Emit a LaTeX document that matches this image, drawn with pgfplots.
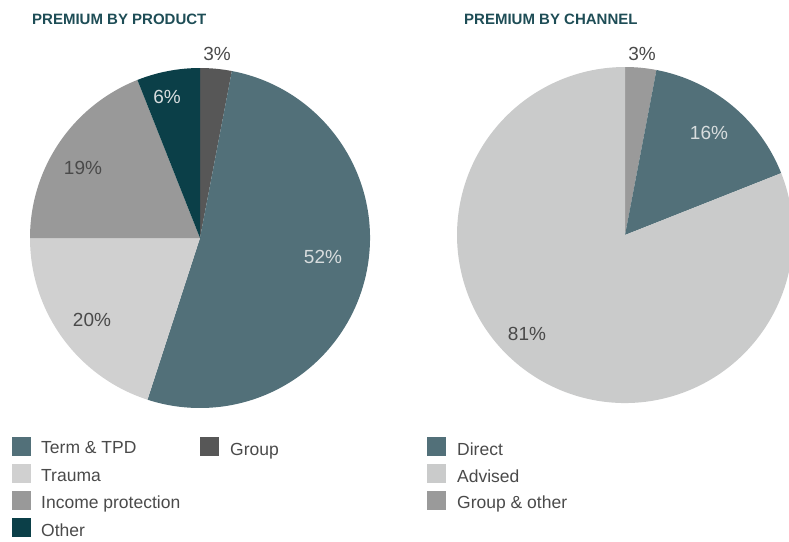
\documentclass[border=0pt]{standalone}
\usepackage{fontspec}
\setmainfont{Liberation Sans}
\usepackage{pgfplots}
\pgfplotsset{compat=1.18}
\definecolor{cTerm}{HTML}{527079}
\definecolor{cTrauma}{HTML}{D0D0D0}
\definecolor{cIncome}{HTML}{999999}
\definecolor{cOther}{HTML}{0B3F48}
\definecolor{cGroup}{HTML}{575757}
\definecolor{cAdvised}{HTML}{CACBCB}
\definecolor{cGrpOther}{HTML}{9A9A9A}
\definecolor{cTitle}{HTML}{1E4D56}
\definecolor{cLab}{HTML}{4A4A4A}
\definecolor{cLight}{HTML}{D8DDDE}
% data (percent shares), clockwise from 12 o'clock
\def\pGroup{3}\def\pTerm{52}\def\pTrauma{20}\def\pIncome{19}\def\pOther{6}
\def\cGrpOtherV{3}\def\cDirect{16}\def\cAdvised{81}
% \slice{cx}{cy}{r}{start cumulative %}{end cumulative %}{color}
\newcommand\slice[6]{%
  \fill[#6] (axis cs:#1,#2) -- ++({90-3.6*(#4)}:#3pt)
    arc[start angle={90-3.6*(#4)}, end angle={90-3.6*(#5)}, radius=#3pt] -- cycle;}
\begin{document}
\begin{tikzpicture}
\useasboundingbox (0,0) rectangle (789pt,541pt);
\clip (0,0) rectangle (789pt,541pt);
\begin{axis}[at={(0,0)}, anchor=south west, scale only axis,
  width=789pt, height=541pt, xmin=0, xmax=789, ymin=0, ymax=541,
  y dir=reverse, hide axis, clip=false]
% left pie
\slice{200}{238}{170}{0}{\pGroup}{cGroup}
\slice{200}{238}{170}{\pGroup}{\pGroup+\pTerm}{cTerm}
\slice{200}{238}{170}{\pGroup+\pTerm}{\pGroup+\pTerm+\pTrauma}{cTrauma}
\slice{200}{238}{170}{\pGroup+\pTerm+\pTrauma}{\pGroup+\pTerm+\pTrauma+\pIncome}{cIncome}
\slice{200}{238}{170}{\pGroup+\pTerm+\pTrauma+\pIncome}{100}{cOther}
% right pie
\slice{625}{235}{168}{0}{\cGrpOtherV}{cGrpOther}
\slice{625}{235}{168}{\cGrpOtherV}{\cGrpOtherV+\cDirect}{cTerm}
\slice{625}{235}{168}{\cGrpOtherV+\cDirect}{100}{cAdvised}
% titles
\node[anchor=base west, text=cTitle, font=\fontsize{15}{18}\selectfont\bfseries, inner sep=0pt] at (axis cs:32,24) {PREMIUM BY PRODUCT};
\node[anchor=base west, text=cTitle, font=\fontsize{15}{18}\selectfont\bfseries, inner sep=0pt] at (axis cs:464,24) {PREMIUM BY CHANNEL};
% slice labels
\begin{scope}[every node/.style={font=\fontsize{19}{22}\selectfont, inner sep=0pt}]
\node[text=cLab] at (axis cs:217,54) {3\%};
\node[text=cLight] at (axis cs:323,257) {52\%};
\node[text=cLab] at (axis cs:92,320) {20\%};
\node[text=cLab] at (axis cs:83,168) {19\%};
\node[text=cLight] at (axis cs:167,97) {6\%};
\node[text=cLab] at (axis cs:642,54) {3\%};
\node[text=cLight] at (axis cs:709,133) {16\%};
\node[text=cLab] at (axis cs:527,334) {81\%};
\end{scope}
% legends
\begin{scope}[every node/.style={font=\fontsize{17.5}{20}\selectfont, inner sep=0pt, anchor=base west, text=cLab}]
\fill[cTerm] (axis cs:12,437) rectangle (axis cs:31,456);
\node at (axis cs:41,453) {Term \& TPD};
\fill[cTrauma] (axis cs:12,464) rectangle (axis cs:31,483);
\node at (axis cs:41,481) {Trauma};
\fill[cIncome] (axis cs:12,491) rectangle (axis cs:31,510);
\node at (axis cs:41,508) {Income protection};
\fill[cOther] (axis cs:12,518) rectangle (axis cs:31,537);
\node at (axis cs:41,536) {Other};
\fill[cGroup] (axis cs:200,437) rectangle (axis cs:219,456);
\node at (axis cs:230,455) {Group};
\fill[cTerm] (axis cs:427,437) rectangle (axis cs:446,456);
\node at (axis cs:457,455) {Direct};
\fill[cAdvised] (axis cs:427,464) rectangle (axis cs:446,483);
\node at (axis cs:457,482) {Advised};
\fill[cGrpOther] (axis cs:427,491) rectangle (axis cs:446,510);
\node at (axis cs:457,508) {Group \& other};
\end{scope}
\end{axis}
\end{tikzpicture}
\end{document}
